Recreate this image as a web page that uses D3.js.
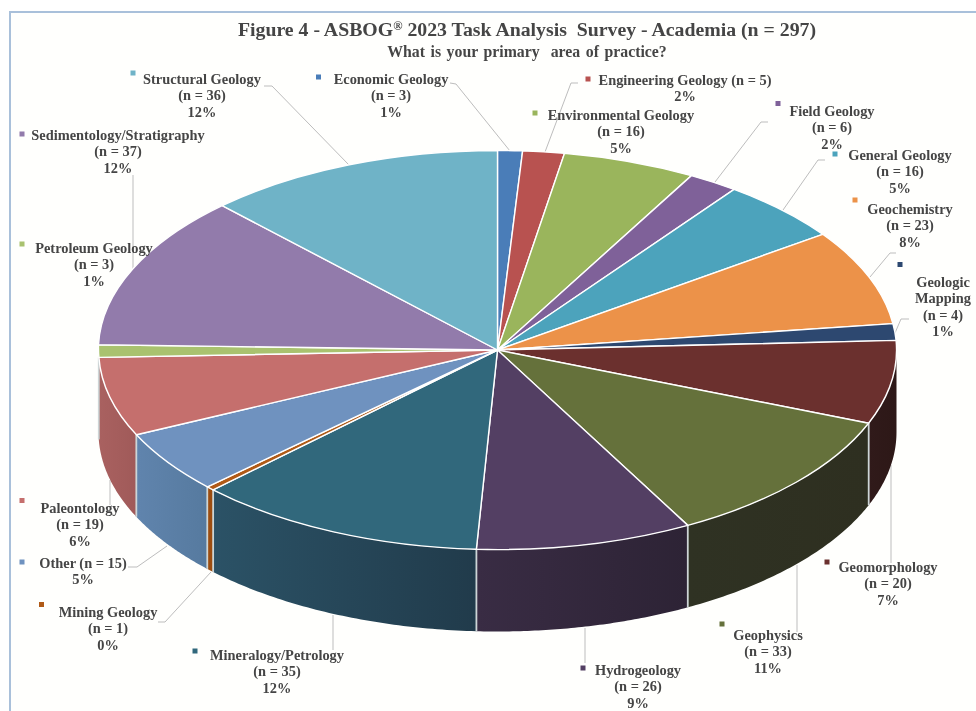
<!DOCTYPE html>
<html><head><meta charset="utf-8">
<script src="https://cdnjs.cloudflare.com/ajax/libs/d3/7.8.5/d3.min.js"></script>
<style>
html,body{margin:0;padding:0;background:#fff;overflow:hidden}
svg{display:block;filter:blur(0.35px)}
text{font-family:"Liberation Serif","Times New Roman",serif;font-weight:bold;fill:#454545;text-anchor:middle;white-space:pre}
</style></head><body><div id="c"></div>
<script>
const categories=["Economic Geology","Engineering Geology","Environmental Geology","Field Geology","General Geology","Geochemistry","Geologic Mapping","Geomorphology","Geophysics","Hydrogeology","Mineralogy/Petrology","Mining Geology","Other","Paleontology","Petroleum Geology","Sedimentology/Stratigraphy","Structural Geology"];
// n as printed in the labels
const labelCounts=[3,5,16,6,16,23,4,20,33,26,35,1,15,19,3,37,36];
// slice sizes as drawn: the General Geology slice measures 15 (the slices total the title's 297)
const sliceCounts=[3,5,16,6,15,23,4,20,33,26,35,1,15,19,3,37,36];
const percents=["1%","2%","5%","2%","5%","8%","1%","7%","11%","9%","12%","0%","5%","6%","1%","12%","12%"];
const topColors=["#4a7db8","#b85250","#9ab55c","#7f6199","#4ca3bc","#ec9249","#2d4870","#6b302e","#65713b","#533f63","#31687c","#b05a17","#6f92bf","#c56f6d","#a9c26f","#927bab","#6fb3c7"];
const wallFrom=["#3b6390","#8f3f3e","#78904a","#624b78","#3a7f93","#b8723a","#213757","#301a1a","#2f3223","#392c44","#2b5266","#9c4d10","#6084ad","#a96160","#83985a","#725f87","#578c9c"];
const wallTo=["#3b6390","#8f3f3e","#78904a","#624b78","#3a7f93","#b8723a","#213757","#2d1817","#2e2f20","#2d2335","#213b4b","#9c4d10","#567a9f","#a05a59","#83985a","#725f87","#578c9c"];
const labelLines=categories.map((c,i)=>{
  const n=`(n = ${labelCounts[i]})`,p=percents[i];
  if(c==="Engineering Geology") return [`${c} ${n}`,p];
  if(c==="Other") return [`${c} ${n}`,p];
  if(c==="Geologic Mapping") return ["Geologic","Mapping",n,p];
  return [c,n,p];
});
// layout of the labels: centre x, first line y, marker x, marker y
const labelLayout=[[391,79,318.5,77],[685,80,588,79],[621,115,535,113],[832,111,778,103.5],[900,155,835,154],[910,209,855,200],[943,282,900,264.5],[888,567,827,562],[768,635,722,624],[638,670,583,668],[277,655,195,651],[108,612,41.5,604.5],[83,563,22,562],[80,508,22,500.5],[94,248,22,244],[118,135,22,134],[202,79,133,73]];
const leaders=[[[450,83],[456,84],[510,151]],[[578,83],[571,83],[545,152]],[],[[768,122],[761,122],[715,182]],[[825,160],[818,160],[783,210]],[[896,253],[890,253],[870,277]],[[909,319],[901,319],[895,333]],[[891,465],[891,563]],[[797,565],[797,632]],[[585,628],[585,663]],[[333,615],[333,650]],[[211,572],[165,622],[158,622]],[[167,546],[137,567],[128,567]],[[110,480],[110,505]],[],[[133,175],[133,270]],[[264,86],[272,86],[349,165]]];

const W=976,H=711,cx=497.5,cy=350,rx=399,ry=199.5,depth=82;
const svg=d3.select("#c").append("svg").attr("width",W).attr("height",H);
const defs=svg.append("defs");
svg.append("rect").attr("x",10).attr("y",12).attr("width",W).attr("height",H).attr("fill","#fffffd").attr("stroke","#a9c0da").attr("stroke-width",2);

const x=d3.scaleLinear().domain([-1,1]).range([cx-rx,cx+rx]);
const y=d3.scaleLinear().domain([-1,1]).range([cy-ry,cy+ry]);
const arcs=d3.pie().sort(null).value(d=>d).startAngle(0).endAngle(2*Math.PI)(sliceCounts);

const line=d3.line().x(d=>d[0]).y(d=>d[1]);
const front=[Math.PI/2,3*Math.PI/2];
const wallPts=(a0,a1)=>{
  const as=d3.range(0,61).map(k=>a0+(a1-a0)*k/60);
  const t=as.map(a=>[x(Math.sin(a)),y(-Math.cos(a))]);
  const b=t.slice().reverse().map(p=>[p[0],p[1]+depth]);
  return {t,b};
};

// leader lines run behind the disc
svg.append("g").selectAll("path").data(leaders.filter(l=>l.length)).join("path")
  .attr("d",d=>line(d)).attr("fill","none").attr("stroke","#bdbdbd").attr("stroke-width",1);

const gw=svg.append("g");
arcs.forEach((d,i)=>{
  const a0=Math.max(d.startAngle,front[0]),a1=Math.min(d.endAngle,front[1]);
  if(a1<=a0) return;
  const id="w"+i;
  const g=defs.append("linearGradient").attr("id",id);
  g.append("stop").attr("offset",0).attr("stop-color",wallFrom[i]);
  g.append("stop").attr("offset",1).attr("stop-color",wallTo[i]);
  const {t,b}=wallPts(a0,a1);
  gw.append("path").attr("d",line(t.concat(b))+"Z").attr("fill",`url(#${id})`);
});
arcs.forEach((d,i)=>{
  const a=d.startAngle;
  if(a<=front[0]||a>=front[1]) return;
  const {t}=wallPts(a,a);
  gw.append("path").attr("d",line([t[0],[t[0][0],t[0][1]+depth]])).attr("stroke","#cdd5d6").attr("stroke-width",1.8).attr("fill","none");
});

// top face
const arc=d3.arc().innerRadius(0).outerRadius(1);
svg.append("g").attr("transform",`translate(${cx},${cy}) scale(${rx},${ry})`)
  .selectAll("path").data(arcs).join("path")
  .attr("d",arc).attr("fill",(d,i)=>topColors[i])
  .attr("stroke","#ffffff").attr("stroke-width",1.4).attr("stroke-linejoin","round")
  .attr("vector-effect","non-scaling-stroke");

// labels
const gl=svg.append("g");
categories.forEach((c,i)=>{
  const [lx,ly,mx,my]=labelLayout[i];
  gl.append("rect").attr("x",mx-2.5).attr("y",my-2.5).attr("width",5).attr("height",5).attr("fill",topColors[i]);
  labelLines[i].forEach((t,k)=>{
    gl.append("text").attr("x",lx).attr("y",ly+5+k*16.3).attr("font-size",14.4).text(t);
  });
});

// titles
const t1=svg.append("text").attr("x",527).attr("y",36).attr("font-size",19.8);
t1.append("tspan").text("Figure 4 - ASBOG");
t1.append("tspan").attr("dy",-6).attr("font-size",12.5).text("®");
t1.append("tspan").attr("dy",6).text(" 2023 Task Analysis  Survey - Academia (n = 297)");
svg.append("text").attr("x",527).attr("y",57).attr("font-size",15.8).attr("word-spacing",1.6).text("What is your primary  area of practice?");
</script></body></html>
